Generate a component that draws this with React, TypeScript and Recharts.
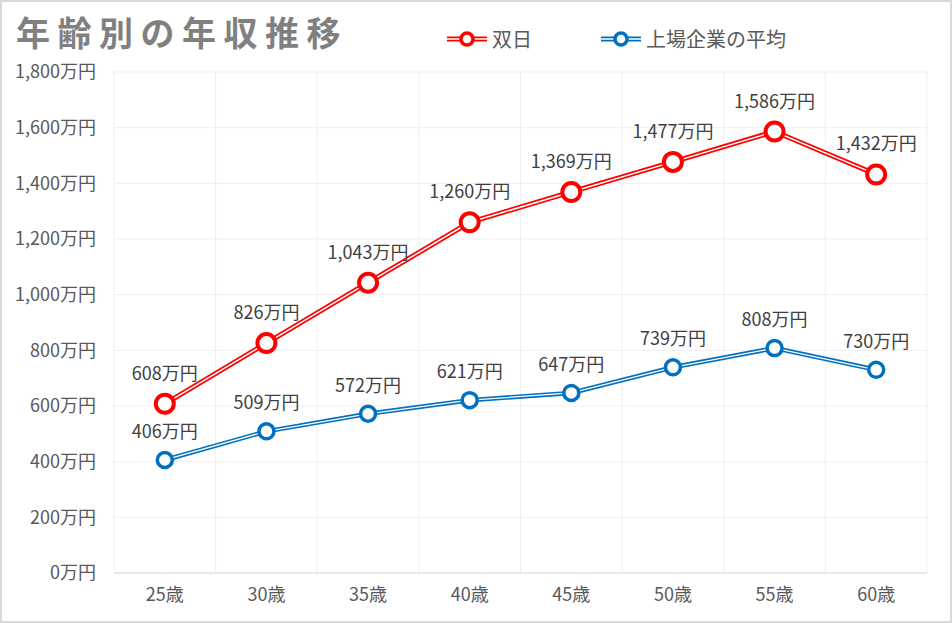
import React from "react";
import { LineChart, Line, XAxis, YAxis, CartesianGrid, ReferenceLine, LabelList } from "recharts";

// 年齢別の年収推移 (万円)
const ages = ["25歳", "30歳", "35歳", "40歳", "45歳", "50歳", "55歳", "60歳"];
const sojitz = [608, 826, 1043, 1260, 1369, 1477, 1586, 1432];
const listedAvg = [406, 509, 572, 621, 647, 739, 808, 730];
const yTicks = [0, 200, 400, 600, 800, 1000, 1200, 1400, 1600, 1800];
const boundaries = [0, 1, 2, 3, 4, 5, 6, 7, 8];

const RED = "#ff0000";
const BLUE = "#0070c0";
const FONT = '"Noto Sans CJK JP", "Noto Sans", sans-serif';

const fmt = (v: number) => `${v.toLocaleString("en-US")}万円`;

const data = ages.map((age, i) => ({
  x: i + 0.5,
  age,
  sojitz: sojitz[i],
  avg: listedAvg[i],
}));

function LegendIcon({ color, r }: { color: string; r: number }) {
  return (
    <svg width={40} height={20} style={{ display: "block" }}>
      <line x1={0} y1={10} x2={40} y2={10} stroke={color} strokeWidth={5} />
      <line x1={0} y1={10} x2={40} y2={10} stroke="#fff" strokeWidth={1.5} />
      <circle cx={20} cy={10} r={r} fill="#fff" stroke={color} strokeWidth={3.5} />
    </svg>
  );
}

export default function App() {
  return (
    <div
      style={{
        position: "absolute",
        left: 0,
        top: 0,
        width: 952,
        height: 623,
        boxSizing: "border-box",
        border: "2px solid #d9d9d9",
        background: "#fff",
        fontFamily: FONT,
      }}
    >
      <div
        style={{
          position: "absolute",
          left: 14,
          top: 8,
          fontSize: 34,
          fontWeight: 700,
          letterSpacing: 7.5,
          color: "#808080",
          lineHeight: "44px",
          whiteSpace: "nowrap",
        }}
      >
        年齢別の年収推移
      </div>
      <div style={{ position: "absolute", left: 445, top: 24, display: "flex", alignItems: "center", color: "#595959", fontSize: 20, lineHeight: "26px" }}>
        <LegendIcon color={RED} r={6} />
        <span style={{ marginLeft: 5 }}>双日</span>
        <span style={{ width: 69 }} />
        <LegendIcon color={BLUE} r={6} />
        <span style={{ marginLeft: 5 }}>上場企業の平均</span>
      </div>
      <div style={{ position: "absolute", left: -2, top: -2 }}>
        <LineChart width={952} height={623} data={data} margin={{ top: 72, right: 25, bottom: 0, left: 0 }}>
          <CartesianGrid vertical={false} stroke="#efefef" />
          {boundaries.map((b) => (
            <ReferenceLine key={b} x={b} stroke="#efefef" />
          ))}
          <XAxis
            dataKey="x"
            type="number"
            domain={[0, 8]}
            ticks={data.map((d) => d.x)}
            tickFormatter={(v: number) => ages[Math.floor(v)]}
            axisLine={{ stroke: "#d9d9d9" }}
            tickLine={false}
            tickSize={0}
            tickMargin={15}
            height={50}
            tick={{ fill: "#595959", fontSize: 18 }}
          />
          <YAxis
            domain={[0, 1800]}
            ticks={yTicks}
            tickFormatter={fmt}
            axisLine={false}
            tickLine={false}
            tickSize={0}
            tickMargin={18}
            width={114}
            tick={{ fill: "#595959", fontSize: 18 }}
          />
          <Line dataKey="avg" stroke={BLUE} strokeWidth={4.5} dot={false} activeDot={false} isAnimationActive={false} />
          <Line dataKey="avg" stroke="#fff" strokeWidth={1.3} dot={false} activeDot={false} isAnimationActive={false} />
          <Line dataKey="sojitz" stroke={RED} strokeWidth={5} dot={false} activeDot={false} isAnimationActive={false} />
          <Line dataKey="sojitz" stroke="#fff" strokeWidth={1.5} dot={false} activeDot={false} isAnimationActive={false} />
          <Line
            dataKey="avg"
            stroke="none"
            dot={{ r: 7.5, stroke: BLUE, strokeWidth: 3.5, fill: "#fff" }}
            activeDot={false}
            isAnimationActive={false}
          >
            <LabelList dataKey="avg" position="top" offset={22} formatter={fmt} fill="#404040" fontSize={18} />
          </Line>
          <Line
            dataKey="sojitz"
            stroke="none"
            dot={{ r: 9, stroke: RED, strokeWidth: 4, fill: "#fff" }}
            activeDot={false}
            isAnimationActive={false}
          >
            <LabelList dataKey="sojitz" position="top" offset={24} formatter={fmt} fill="#404040" fontSize={18} />
          </Line>
        </LineChart>
      </div>
    </div>
  );
}
